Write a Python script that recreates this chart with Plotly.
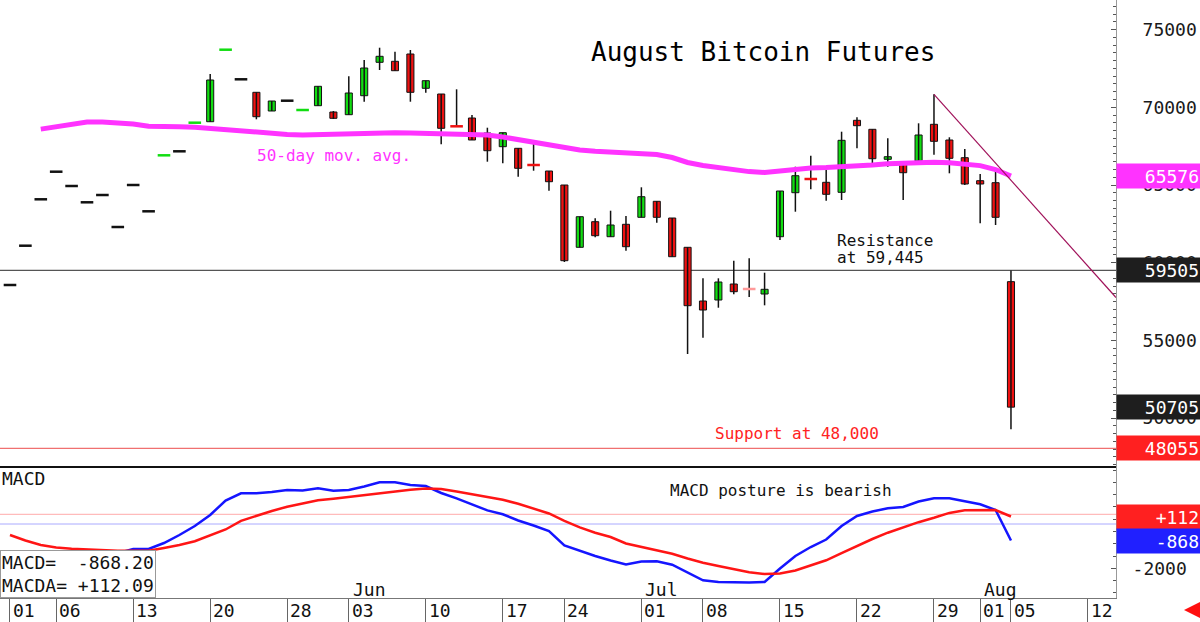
import plotly.graph_objects as go

# ---------------- data ----------------
DATES = [
    "2024-05-01", "2024-05-02", "2024-05-03", "2024-05-06", "2024-05-07", "2024-05-08", "2024-05-09", "2024-05-10",
    "2024-05-13", "2024-05-14", "2024-05-15", "2024-05-16", "2024-05-17", "2024-05-20", "2024-05-21", "2024-05-22",
    "2024-05-23", "2024-05-24", "2024-05-28", "2024-05-29", "2024-05-30", "2024-05-31", "2024-06-03", "2024-06-04",
    "2024-06-05", "2024-06-06", "2024-06-07", "2024-06-10", "2024-06-11", "2024-06-12", "2024-06-13", "2024-06-14",
    "2024-06-17", "2024-06-18", "2024-06-20", "2024-06-21", "2024-06-24", "2024-06-25", "2024-06-26", "2024-06-27",
    "2024-06-28", "2024-07-01", "2024-07-02", "2024-07-03", "2024-07-05", "2024-07-08", "2024-07-09", "2024-07-10",
    "2024-07-11", "2024-07-12", "2024-07-15", "2024-07-16", "2024-07-17", "2024-07-18", "2024-07-19", "2024-07-22",
    "2024-07-23", "2024-07-24", "2024-07-25", "2024-07-26", "2024-07-29", "2024-07-30", "2024-07-31", "2024-08-01",
    "2024-08-02", "2024-08-05",
]
FUTURE_DATES = ["2024-08-06", "2024-08-07", "2024-08-08", "2024-08-09", "2024-08-12", "2024-08-13"]

OPEN = [58565, 61094, 64080, 65856, 64936, 63887, 64356, 62297, 65000, 63307,
        66911, 67168, 69009, 69073, 73707, 71802, 70965, 69762, 70425, 69826,
        70103, 69697, 69524, 70746, 72896, 72960, 73430, 71223, 70856, 68777,
        69311, 68346, 67465, 67362, 66287, 65901, 65000, 60991, 62639, 61673,
        62471, 62921, 63951, 62876, 60991, 57535, 57600, 58629, 58308, 57986,
        61673, 64505, 65386, 65174, 64530, 69163, 68584, 66654, 66351, 66545,
        68906, 67896, 66757, 65277, 65148, 58780]
HIGH = [58565, 61094, 64080, 65856, 64936, 63887, 64356, 62297, 65000, 63307,
        66911, 67168, 69009, 72143, 73707, 71802, 70965, 70405, 70425, 69826,
        71351, 69760, 71995, 73044, 73835, 73578, 73687, 71712, 70856, 71158,
        69504, 68687, 68366, 67362, 67748, 65901, 65000, 62960, 62857, 63346,
        63005, 64852, 63951, 62876, 60991, 58996, 58996, 60129, 60283, 59357,
        64614, 66177, 66885, 65965, 68430, 69356, 68584, 68006, 66351, 68970,
        70837, 68070, 67317, 65708, 66029, 59505]
LOW = [58565, 61094, 64080, 65856, 64936, 63887, 64356, 62297, 65000, 63307,
       66911, 67168, 69009, 69073, 73707, 71802, 69228, 69762, 70425, 69826,
       70103, 69250, 69524, 70360, 72400, 72355, 70360, 70940, 67619, 68777,
       67896, 66500, 66396, 65534, 65920, 64633, 60045, 60991, 61635, 61673,
       60772, 62921, 62574, 60386, 54125, 55174, 57104, 57967, 57793, 57258,
       61461, 63282, 64723, 63990, 64035, 67362, 66177, 66177, 64035, 66287,
       66950, 65753, 65000, 62535, 62426, 49280]
CLOSE = [58565, 61094, 64080, 65856, 64936, 63887, 64356, 62297, 65000, 63307,
         66911, 67168, 69009, 71757, 73707, 71802, 69395, 70405, 70425, 69826,
         71351, 69292, 70920, 72529, 73282, 72355, 70965, 71712, 68649, 68777,
         67896, 67207, 68366, 66075, 66287, 65212, 60129, 62960, 61738, 62426,
         61030, 64247, 62921, 60386, 57233, 56956, 58758, 58134, 58308, 58288,
         64614, 65598, 65386, 64402, 67876, 68816, 66692, 66821, 65791, 68218,
         67812, 66718, 65064, 65064, 62921, 50705]

MA50 = [None, None, 68597, 68764, 68912, 69054, 69054, 68990, 68925, 68777,
        68797, 68745, 68713, 68636, 68539, 68423, 68353, 68308, 68256, 68224,
        68256, 68295, 68327, 68340, 68353, 68359, 68346, 68333, 68314, 68295,
        68282, 68218, 68089, 67928, 67780, 67574, 67381, 67252, 67169, 67111,
        67059, 67021, 66963, 66770, 66448, 66261, 66126, 65997, 65862, 65804,
        65914, 66030, 66094, 66126, 66158, 66203, 66287, 66364, 66403, 66435,
        66461, 66435, 66364, 66248, 65997, 65576]

MACD = [-2071, -1908, -1704, -1561, -1459, -1378, -1324, -1390, -1214, -1214,
        -969, -643, -276, 173, 765, 1059, 1059, 1112, 1194, 1173,
        1263, 1165, 1194, 1337, 1508, 1508, 1398, 1357, 1071, 855,
        622, 361, 202, -51, -255, -480, -1071, -1296, -1500, -1684,
        -1847, -1724, -1716, -1855, -2186, -2492, -2561, -2582, -2586, -2561,
        -2010, -1500, -1133, -827, -276, 133, 316, 447, 500, 724,
        855, 855, 733, 610, 378, -868.20]
MACDA = [-643, -867, -1051, -1153, -1206, -1239, -1255, -1284, -1284, -1284,
         -1173, -1051, -896, -663, -418, -63, 153, 337, 512, 651,
         773, 835, 908, 990, 1084, 1145, 1206, 1259, 1235, 1133,
         1027, 908, 794, 635, 443, 235, -63, -329, -549, -724,
         -990, -1133, -1276, -1410, -1602, -1773, -1908, -2043, -2165, -2235,
         -2214, -2092, -1888, -1676, -1378, -1084, -806, -549, -329, -120,
         59, 259, 365, 386, 378, 112.09]

TICK_DATES = ["2024-05-01", "2024-05-06", "2024-05-13", "2024-05-20", "2024-05-28", "2024-06-03",
              "2024-06-10", "2024-06-17", "2024-06-24", "2024-07-01", "2024-07-08", "2024-07-15",
              "2024-07-22", "2024-07-29", "2024-08-01", "2024-08-05", "2024-08-12"]
MONTH_LABELS = [("Jun", "2024-06-03"), ("Jul", "2024-07-01"), ("Aug", "2024-08-01")]
PRICE_TICKS = [50000, 55000, 60000, 65000, 70000, 75000]
MACD_TICKS = [-2000]

RESISTANCE = 59505
SUPPORT = 48055
MA_LAST = 65576
TREND_FROM = ("2024-07-29", 70837)
TREND_TO = ("2024-08-12", 59775)
MACD_REF_RED = 202
MACD_REF_BLUE = -194
MACD_LAST = -868.20
MACDA_LAST = 112.09

# ---------------- styling ----------------
FONT = "DejaVu Sans Mono"
GREEN = "#11DD11"
RED = "#EE1111"
MAGENTA = "#FF33FF"
DASH_COLORS = {"2024-05-15": GREEN, "2024-05-17": GREEN, "2024-05-21": GREEN, "2024-05-29": GREEN,
               "2024-06-12": RED, "2024-06-20": RED, "2024-07-17": RED, "2024-07-11": "#FF9A9A"}

CAL = DATES + FUTURE_DATES
POS = {d: i for i, d in enumerate(CAL)}
X = [POS[d] for d in DATES]
X_LO, X_HI = -0.649, 71.82

fig = go.Figure()

# wicks
wx, wy = [], []
for xi, lo, hi in zip(X, LOW, HIGH):
    wx += [xi, xi, None]
    wy += [lo, hi, None]
fig.add_trace(go.Scatter(x=wx, y=wy, mode="lines", line=dict(color="#111", width=1.5),
                         xaxis="x", yaxis="y", hoverinfo="skip"))

# bodies
bx, bb, bh, bc = [], [], [], []
dx, dy, dc = [], [], []
for d, xi, o, c in zip(DATES, X, OPEN, CLOSE):
    if o != c:
        bx.append(xi)
        bb.append(min(o, c))
        bh.append(abs(c - o))
        bc.append(GREEN if c > o else RED)
    else:
        dx.append(xi)
        dy.append(c)
        dc.append(DASH_COLORS.get(d, "#111"))
fig.add_trace(go.Bar(x=bx, y=bh, base=bb, width=0.46, marker=dict(color=bc, line=dict(color="#111", width=1)),
                     xaxis="x", yaxis="y"))
fig.add_trace(go.Scatter(x=dx, y=dy, mode="markers",
                         marker=dict(symbol="line-ew", size=9, line=dict(color=dc, width=2.5)),
                         xaxis="x", yaxis="y"))

# moving average
fig.add_trace(go.Scatter(x=X, y=MA50, mode="lines", line=dict(color=MAGENTA, width=5), xaxis="x", yaxis="y",
                         connectgaps=False))

# trend line, extended to right edge
x0, y0 = POS[TREND_FROM[0]], TREND_FROM[1]
x1, y1 = POS[TREND_TO[0]], TREND_TO[1]
slope = (y1 - y0) / (x1 - x0)
fig.add_trace(go.Scatter(x=[x0, X_HI], y=[y0, y0 + slope * (X_HI - x0)], mode="lines",
                         line=dict(color="#A0125A", width=1.2), xaxis="x", yaxis="y"))

# MACD
fig.add_trace(go.Scatter(x=X, y=MACD, mode="lines", line=dict(color="#1515FF", width=2.5), xaxis="x2", yaxis="y2"))
fig.add_trace(go.Scatter(x=X, y=MACDA, mode="lines", line=dict(color="#FF1515", width=2.5), xaxis="x2", yaxis="y2"))

shapes = [
    dict(type="line", xref="x domain", yref="y", x0=0, x1=1, y0=RESISTANCE, y1=RESISTANCE,
         line=dict(color="#555", width=1.2), layer="below"),
    dict(type="line", xref="x domain", yref="y", x0=0, x1=1, y0=SUPPORT, y1=SUPPORT,
         line=dict(color="#F07070", width=1.2), layer="below"),
    dict(type="line", xref="x2 domain", yref="y2", x0=0, x1=1, y0=MACD_REF_RED, y1=MACD_REF_RED,
         line=dict(color="#FFAAAA", width=1), layer="below"),
    dict(type="line", xref="x2 domain", yref="y2", x0=0, x1=1, y0=MACD_REF_BLUE, y1=MACD_REF_BLUE,
         line=dict(color="#AAAAFF", width=1), layer="below"),
]

PH = 598.0
def py(px):
    return (PH - px) / PH

ann = []
def txt(text, x, y, size=16, color="#111", xanchor="left", **kw):
    ann.append(dict(text=text, x=x, y=y, xref="paper", yref="paper", xanchor=xanchor, yanchor="middle",
                    showarrow=False, font=dict(family=FONT, size=size, color=color), **kw))

txt("August Bitcoin Futures", 763.5 / 1116, py(52), size=26, color="#000", xanchor="center")
txt("50-day mov. avg.", 255 / 1116, py(155), color=MAGENTA)
txt("Resistance", 835 / 1116, py(241))
txt("at 59,445", 835 / 1116, py(257))
txt("Support at 48,000", 713 / 1116, py(433), color="#FF2222")
txt("MACD posture is bearish", 668 / 1116, py(490))
ann.append(dict(text="MACD", x=0, y=py(466), xref="paper", yref="paper", xanchor="left", yanchor="top",
                showarrow=False, font=dict(family=FONT, size=18, color="#111")))
ann.append(dict(text="MACD=\u00a0\u00a0%.2f<br>MACDA=\u00a0%+.2f" % (MACD_LAST, MACDA_LAST),
                x=0, y=0, xref="paper", yref="paper", xanchor="left", yanchor="bottom", align="left",
                showarrow=False, bgcolor="white", bordercolor="#999", borderwidth=1, borderpad=1,
                font=dict(family=FONT, size=18, color="#111")))

for d in TICK_DATES:
    ann.append(dict(text=d[8:], x=POS[d], y=py(610), xref="x2", yref="paper", xanchor="left", yanchor="middle",
                    xshift=1, showarrow=False, font=dict(family=FONT, size=18, color="#111")))
for m, d in MONTH_LABELS:
    ann.append(dict(text=m, x=POS[d], y=py(589), xref="x2", yref="paper", xanchor="left", yanchor="middle",
                    xshift=2, showarrow=False, font=dict(family=FONT, size=18, color="#111")))

def box(text, yval, yref, bg):
    ann.append(dict(text=text, x=1, y=yval, xref="paper", yref=yref, xanchor="left", yanchor="middle",
                    showarrow=False, bgcolor=bg, width=80, height=20, borderpad=2, align="right",
                    font=dict(family=FONT, size=18, color="white")))

box(str(MA_LAST), MA_LAST, "y", MAGENTA)
box(str(RESISTANCE), RESISTANCE, "y", "#1e1e1e")
box(str(CLOSE[-1]), CLOSE[-1], "y", "#1e1e1e")
box(str(SUPPORT), SUPPORT, "y", "#FF2020")
box("%+d" % round(MACDA_LAST), MACDA_LAST, "y2", "#FF2020")
box("%d" % round(MACD_LAST), MACD_LAST, "y2", "#2020FF")

ann.append(dict(text="", x=1184 / 1116, y=py(610), xref="paper", yref="paper", showarrow=True,
                ax=14, ay=0, arrowhead=2, arrowsize=0.9, arrowwidth=4, arrowcolor="#FF1010"))

fig.update_layout(
    width=1200, height=622, margin=dict(l=0, r=84, t=0, b=24),
    paper_bgcolor="white", plot_bgcolor="white", showlegend=False,
    font=dict(family=FONT, size=16, color="#111"),
    barmode="overlay", shapes=shapes, annotations=ann,
    xaxis=dict(domain=[0, 1], range=[X_LO, X_HI], anchor="y", showgrid=False, zeroline=False,
               showticklabels=False, ticks="", showline=True, linecolor="#111", linewidth=2),
    xaxis2=dict(domain=[0, 1], range=[X_LO, X_HI], anchor="y2", matches="x", showgrid=False, zeroline=False,
                showline=True, linecolor="#777", linewidth=1, ticks="outside", ticklen=24, tickcolor="#666",
                tickvals=[POS[d] for d in TICK_DATES], showticklabels=False),
    yaxis=dict(domain=[132 / 598, 1], range=[46918, 76905], anchor="x", side="right", showgrid=False,
               zeroline=False, showline=True, linecolor="#999", ticks="inside", ticklen=5, tickcolor="#555",
               tickvals=PRICE_TICKS, ticktext=[str(v) for v in PRICE_TICKS],
               tickfont=dict(family=FONT, size=18, color="#1a1a1a"),
               ticklabelstandoff=22,
               minor=dict(dtick=500, ticks="inside", ticklen=3, tickcolor="#555")),
    yaxis2=dict(domain=[0, 132 / 598], range=[-3214, 2173], anchor="x2", side="right", showgrid=False,
                zeroline=False, showline=True, linecolor="#999", ticks="inside", ticklen=5, tickcolor="#555",
                tickvals=MACD_TICKS, ticktext=[str(v) for v in MACD_TICKS],
                tickfont=dict(family=FONT, size=18, color="#1a1a1a"),
                ticklabelstandoff=12,
                minor=dict(dtick=500, ticks="inside", ticklen=3, tickcolor="#555")),
)

fig.write_html("out.html")
